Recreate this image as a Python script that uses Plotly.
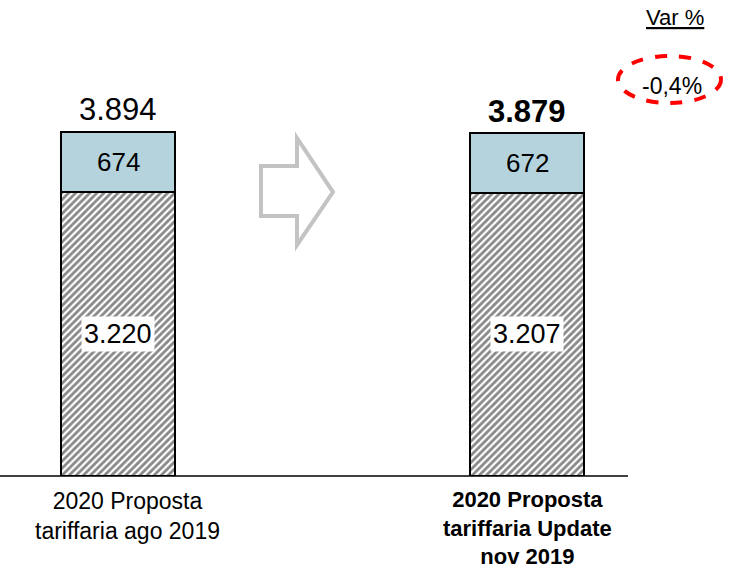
import plotly.graph_objects as go

categories = ["2020 Proposta<br>tariffaria ago 2019", "<b>2020 Proposta<br>tariffaria Update<br>nov 2019</b>"]
base_values = [3220, 3207]
top_values = [674, 672]
totals = ["3.894", "<b>3.879</b>"]
base_labels = ["3.220", "3.207"]
top_labels = ["674", "672"]
var_title = "Var %"
var_value = "-0,4%"

W, H = 731, 570
PLOT_H = 476
FONT = "Arial, Liberation Sans, sans-serif"


def px(x):
    return x / W


def py(y):
    return (PLOT_H - y) / PLOT_H


fig = go.Figure()

fig.add_trace(go.Bar(
    x=[0, 1], y=base_values, width=0.281,
    marker=dict(color="white", line=dict(color="black", width=2),
                pattern=dict(shape="/", fgcolor="#111111", bgcolor="white",
                             size=5, solidity=0.55)),
    hoverinfo="skip",
))
fig.add_trace(go.Bar(
    x=[0, 1], y=top_values, width=0.281,
    marker=dict(color="#B5D3DD", line=dict(color="black", width=2)),
    hoverinfo="skip",
))

for i in range(2):
    total = base_values[i] + top_values[i]
    fig.add_annotation(x=i, y=total, text=totals[i], showarrow=False,
                       yanchor="middle", yshift=22, xanchor="center",
                       font=dict(family=FONT, size=31, color="black"))
    fig.add_annotation(x=i, y=base_values[i] + top_values[i] / 2,
                       text=top_labels[i], showarrow=False, xanchor="center",
                       font=dict(family=FONT, size=26, color="black"))
    fig.add_annotation(x=i, y=base_values[i] / 2, text=base_labels[i],
                       showarrow=False, bgcolor="white", borderpad=2,
                       xanchor="center",
                       font=dict(family=FONT, size=27, color="black"))

# category labels under the bars
fig.add_annotation(x=px(127), y=py(486), xref="paper", yref="paper",
                   text=categories[0], showarrow=False, yanchor="top",
                   xanchor="center",
                   font=dict(family=FONT, size=23, color="black"))
fig.add_annotation(x=px(527), y=py(485), xref="paper", yref="paper",
                   text=categories[1], showarrow=False, yanchor="top",
                   xanchor="center",
                   font=dict(family=FONT, size=22, color="black"))

# baseline
fig.add_shape(type="line", xref="paper", yref="paper",
              x0=0, x1=px(628), y0=py(476), y1=py(476),
              line=dict(color="black", width=1.5))

# block arrow
pts = [(261, 166), (297, 166), (297, 138), (333, 192), (297, 245),
       (297, 216), (261, 216)]
path = "M " + " L ".join(f"{px(a):.4f},{py(b):.4f}" for a, b in pts) + " Z"
fig.add_shape(type="path", xref="paper", yref="paper", path=path,
              fillcolor="white", line=dict(color="#C3C3C3", width=4))

# Var % box
fig.add_annotation(x=px(675), y=py(18), xref="paper", yref="paper",
                   text=f"<u>{var_title}</u>", showarrow=False,
                   xanchor="center", yanchor="middle",
                   font=dict(family=FONT, size=22, color="black"))
fig.add_shape(type="circle", xref="paper", yref="paper",
              x0=px(618), x1=px(721), y0=py(103), y1=py(56),
              line=dict(color="#FF0000", width=4, dash="dash"))
fig.add_annotation(x=px(672), y=py(86), xref="paper", yref="paper",
                   text=var_value, showarrow=False,
                   xanchor="center", yanchor="middle",
                   font=dict(family=FONT, size=23, color="black"))

fig.update_layout(
    width=W, height=H,
    margin=dict(l=0, r=0, t=0, b=H - PLOT_H),
    barmode="stack",
    showlegend=False,
    plot_bgcolor="white", paper_bgcolor="white",
    xaxis=dict(range=[-118 / 409, (W - 118) / 409], visible=False),
    yaxis=dict(range=[0, 5388], visible=False),
)

fig.write_html("out.html", config={"displayModeBar": False},
               post_script="document.body.style.margin='0';")
